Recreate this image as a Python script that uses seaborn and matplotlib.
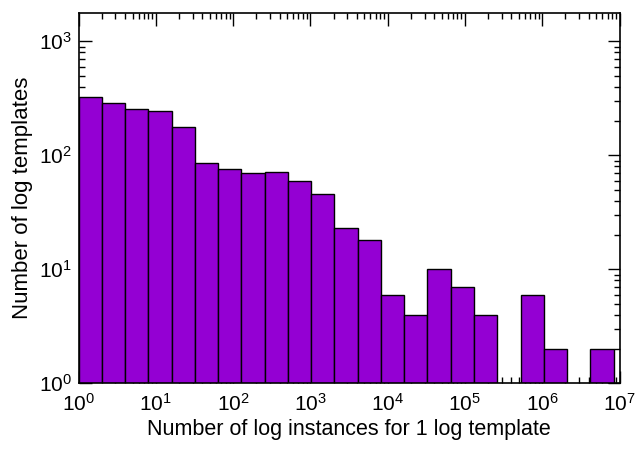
import matplotlib
matplotlib.use('Agg')
import matplotlib.pyplot as plt
import numpy as np
import pandas as pd
import seaborn as sns

# bins are powers of two, 2^0 .. 2^23
bin_exponents = list(range(24))
counts = [327, 286, 253, 245, 178, 85, 76, 70, 72, 60, 46, 23,
          18, 6, 4, 10, 7, 4, 0, 6, 2, 0, 2]
x_decades = list(range(8))
y_decades = list(range(4))

edges = [2.0 ** e for e in bin_exponents]
centers = [np.sqrt(a * b) for a, b in zip(edges[:-1], edges[1:])]
df = pd.DataFrame({'instances': centers, 'templates': counts})

sns.set_style('ticks')
plt.rcParams['font.family'] = ['Liberation Sans', 'DejaVu Sans']
plt.rcParams['mathtext.fontset'] = 'custom'
plt.rcParams['mathtext.rm'] = 'Liberation Sans'
plt.rcParams['mathtext.it'] = 'Liberation Sans'
plt.rcParams['text.color'] = 'black'
plt.rcParams['axes.labelcolor'] = 'black'
plt.rcParams['xtick.color'] = 'black'
plt.rcParams['ytick.color'] = 'black'

fig = plt.figure(figsize=(6.38, 4.49), dpi=100)
ax = fig.add_axes([78.5 / 638, 1 - 383.3 / 449, 541 / 638, 370 / 449])

sns.histplot(data=df, x='instances', weights='templates', bins=edges, ax=ax,
             color='#9400d3', edgecolor='black', linewidth=1.0,
             alpha=1.0)

ax.set_xscale('log')
ax.set_yscale('log')
ax.set_xticks([10.0 ** d for d in x_decades],
              [f'$10^{{{d}}}$' for d in x_decades])
ax.set_yticks([10.0 ** d for d in y_decades],
              [f'$10^{{{d}}}$' for d in y_decades])
ax.set_xlim(1, 1e7)
ax.set_ylim(1, 10 ** 3.246)

ax.set_xlabel('Number of log instances for 1 log template', fontsize=15.5,
              labelpad=3)
ax.set_ylabel('Number of log templates', fontsize=16, labelpad=4)
ax.tick_params(which='both', direction='in', top=True, right=True,
               labelsize=15, width=1.0, color='black', labelcolor='black')
ax.tick_params(axis='x', which='major', length=9, pad=7)
ax.tick_params(axis='y', which='major', length=9, pad=5)
ax.tick_params(which='minor', length=4.5)
for s in ax.spines.values():
    s.set_linewidth(1.2)
    s.set_color('black')

fig.savefig('out.png', dpi=100)
